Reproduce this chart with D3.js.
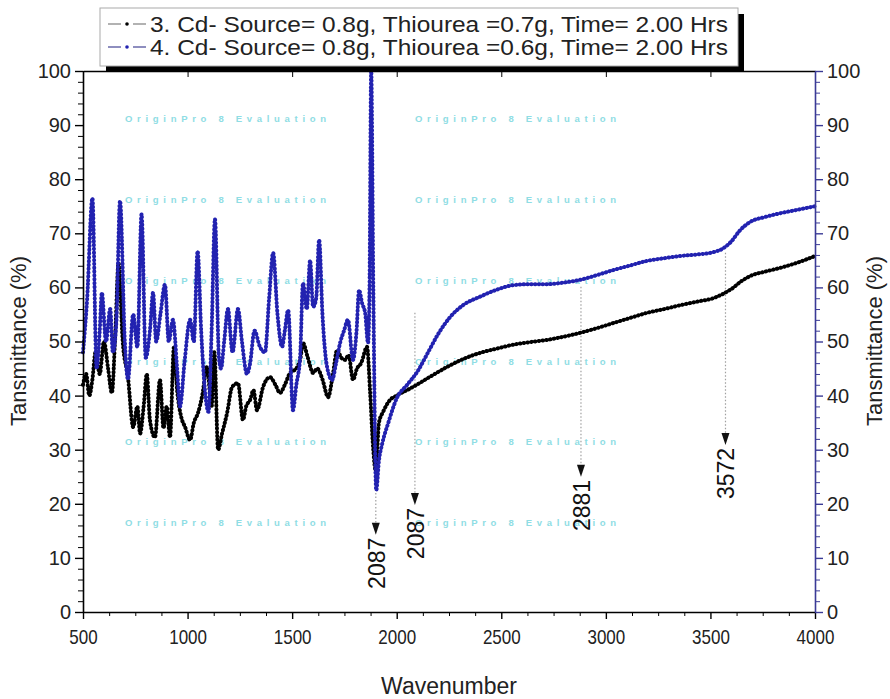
<!DOCTYPE html>
<html>
<head>
<meta charset="utf-8">
<script src="https://cdn.jsdelivr.net/npm/d3@7"></script>
<style>
  body { margin: 0; background: #fff; }
  svg { font-family: "Liberation Sans", Arial, sans-serif; }
</style>
</head>
<body>
<svg width="890" height="699"></svg>
<script>
// spectrum 3 (black)
const waveBlack = [500,515,530,545,560,580,600,620,638,655,670,690,715,740,760,773,790,805,820,844,
  868,885,900,916,935,950,970,988,1012,1030,1050,1070,1093,1115,1128,1146,1165,1189,1213,1241,
  1265,1280,1299,1315,1332,1361,1394,1420,1442,1465,1490,1520,1540,1552,1575,1600,1620,1645,1672,1695,
  1715,1735,1753,1770,1791,1810,1830,1858,1873,1887,1900,1915,1935,1968,2000,2078,2160,2241,2320,2399,
  2480,2556,2640,2719,2800,2877,2960,3035,3120,3197,3280,3355,3440,3513,3560,3600,3650,3690,3760,3833,
  3910,4000];
const transBlack = [42,44,40,43,48,44,50,45,40.5,52,64.5,50,43.4,34.2,38,33,38,44,35.5,32.3,
  42.9,34,38,32.3,49,41,36,34.2,31.8,35,36.8,40,45.3,38,48,30,33,36.8,41.6,42.3,
  35.5,38,39.2,41,37.3,41.6,43.4,42,40.5,42,44.2,45,47,49.7,47,44.2,45,43,39.7,44,
  48.4,47,46.6,47.5,42.9,45,46,49,40.5,30.5,26,35,37,39.2,40,41.6,43.5,45.3,46.8,47.9,
  48.7,49.4,49.9,50.3,50.9,51.6,52.5,53.4,54.4,55.3,56,56.7,57.4,58,58.8,59.7,61.2,62.1,62.9,63.6,
  64.5,65.8];

// spectrum 4 (blue)
const waveBlue = [500,520,545,565,580,590,610,630,643,660,677,700,715,740,760,780,800,820,835,850,
  870,892,910,930,950,964,985,1012,1030,1048,1065,1083,1100,1115,1131,1150,1160,1175,1193,1215,
  1241,1260,1284,1299,1320,1346,1370,1390,1409,1430,1452,1465,1481,1504,1520,1538,1552,1570,1586,1600,
  1615,1629,1645,1667,1691,1710,1729,1748,1767,1791,1808,1820,1835,1849,1863,1870,1878,1888,1902,1915,
  1930,1960,2000,2050,2100,2150,2200,2255,2320,2399,2480,2556,2640,2719,2800,2877,2960,3035,3120,3197,
  3280,3355,3440,3513,3560,3600,3640,3690,3760,3833,3910,4000];
const transBlue = [48,58,76.5,45,52,59,50,56,48,54,76,50,43,55,49,73.5,47,52,59,50,
  55,60.5,50,54,45,38,46,54,50,66.7,52,41,37,52,72.6,47,45,50,56,48,
  56,50,44,46,52,49,48,58,66.4,55,49,52,55.8,37.3,42,47,60.8,56,65,56.4,
  58,68.8,55,45.3,42.9,46,49.7,52,54,46.6,52,59.5,57,55.3,49.7,60,100,60,22.5,28,
  31,35,39.5,42,44.5,48,51.5,54.5,56.8,58.3,59.6,60.4,60.6,60.6,60.9,61.4,62.3,63.2,64.1,64.9,
  65.4,65.8,66.1,66.5,67.2,68.5,70.5,72.1,73,73.7,74.3,75];

const xTicks = [500,1000,1500,2000,2500,3000,3500,4000];
const yTicks = [0,10,20,30,40,50,60,70,80,90,100];
const legendLabels = [
  "3. Cd- Source= 0.8g, Thiourea =0.7g, Time= 2.00 Hrs",
  "4. Cd- Source= 0.8g, Thiourea =0.6g, Time= 2.00 Hrs"
];

// peak markers: where the arrow points, label, top of dotted guide, arrow level
const peakWave  = [1900, 2087, 2881, 3572];
const peakLabel = ["2087", "2087", "2881", "3572"];
const peakTop   = [22, 55.3, 60.1, 66.4];
const peakArrow = [16.5, 22, 27.2, 33.1];

const blue = "#2222b0";
const axisBlue = "#3a3a96";

const svg = d3.select("svg");

const x = d3.scaleLinear().domain([500, 4000]).range([83, 815]);
const y = d3.scaleLinear().domain([0, 100]).range([612, 71]);

// watermark
const wmRows = [118, 199, 280, 361, 441, 522];
[125, 415].forEach(cx => {
  wmRows.forEach(ry => {
    svg.append("text")
      .attr("x", cx).attr("y", ry)
      .attr("dominant-baseline", "central")
      .style("font-size", "9.5px")
      .style("font-weight", "bold")
      .style("letter-spacing", "4.7px")
      .style("fill", "#8fdde4")
      .text("OriginPro 8 Evaluation");
  });
});

// peak guides
peakWave.forEach((w, i) => {
  const px = x(w);
  svg.append("line")
    .attr("x1", px).attr("x2", px)
    .attr("y1", y(peakTop[i])).attr("y2", y(peakArrow[i]))
    .style("stroke", "#a0a0a0")
    .style("stroke-width", 1.2)
    .style("stroke-dasharray", "1.5 2");
  const ay = y(peakArrow[i]);
  svg.append("path")
    .attr("d", `M${px - 4},${ay} L${px + 4},${ay} L${px},${ay + 12} Z`)
    .style("fill", "#111");
  svg.append("text")
    .attr("transform", `translate(${px + 1},${ay + 15}) rotate(-90)`)
    .attr("text-anchor", "end")
    .attr("dominant-baseline", "central")
    .style("font-size", "23px")
    .style("fill", "#111")
    .text(peakLabel[i]);
});

// spectra
const line = d3.line()
  .x(d => x(d[0]))
  .y(d => y(d[1]))
  .curve(d3.curveMonotoneX);

function drawSpectrum(waves, values, color) {
  const pts = d3.zip(waves, values);
  svg.append("path")
    .datum(pts)
    .attr("d", line)
    .style("fill", "none")
    .style("stroke", color)
    .style("stroke-width", 1.6);
  svg.append("path")
    .datum(pts)
    .attr("d", line)
    .style("fill", "none")
    .style("stroke", color)
    .style("stroke-width", 4)
    .style("stroke-linecap", "round")
    .style("stroke-dasharray", "0.4 3.4");
}
drawSpectrum(waveBlack, transBlack, "#000");
drawSpectrum(waveBlue, transBlue, blue);

// axes
const minorX = d3.range(500, 4001, 125).filter(v => !xTicks.includes(v));
const minorY = d3.range(0, 101, 2).filter(v => !yTicks.includes(v));

svg.append("g")
  .attr("transform", "translate(0,612)")
  .call(d3.axisBottom(x).tickValues(minorX).tickSize(4).tickFormat(""))
  .call(g => g.select(".domain").remove());
svg.append("g")
  .attr("transform", "translate(0,612)")
  .call(d3.axisBottom(x).tickValues(xTicks).tickSize(7).tickPadding(11)
    .tickSizeOuter(0).tickFormat(d3.format("d")))
  .call(g => g.select(".domain").style("stroke-width", 1.6))
  .call(g => g.selectAll(".tick line").style("stroke-width", 1.4))
  .call(g => g.selectAll("text")
    .style("font-size", "20px").style("fill", "#222")
    .attr("transform", function () {
      return `translate(${d3.select(this.parentNode).datum() ? 0 : 0},0) scale(0.85,1)`;
    })
    .attr("x", function () { return 0; }));

svg.append("g")
  .attr("transform", "translate(0,71)")
  .call(d3.axisBottom(x).tickValues(xTicks).tickSize(6).tickFormat("").tickSizeOuter(0))
  .call(g => g.select(".domain").style("stroke-width", 1.6));

svg.append("g")
  .attr("transform", "translate(83,0)")
  .call(d3.axisLeft(y).tickValues(minorY).tickSize(5).tickFormat(""))
  .call(g => g.select(".domain").remove());
svg.append("g")
  .attr("transform", "translate(83,0)")
  .call(d3.axisLeft(y).tickValues(yTicks).tickSize(8).tickPadding(4).tickSizeOuter(0))
  .call(g => g.select(".domain").style("stroke-width", 1.6))
  .call(g => g.selectAll(".tick line").style("stroke-width", 1.4))
  .call(g => g.selectAll("text").style("font-size", "20px").style("fill", "#222"));

svg.append("g")
  .attr("transform", "translate(815,0)")
  .call(d3.axisRight(y).tickValues(minorY).tickSize(5).tickFormat(""))
  .call(g => g.select(".domain").remove())
  .call(g => g.selectAll(".tick line").style("stroke", axisBlue));
svg.append("g")
  .attr("transform", "translate(815,0)")
  .call(d3.axisRight(y).tickValues(yTicks).tickSize(8).tickPadding(4).tickSizeOuter(0))
  .call(g => g.select(".domain").style("stroke", axisBlue).style("stroke-width", 1.6))
  .call(g => g.selectAll(".tick line").style("stroke", axisBlue).style("stroke-width", 1.4))
  .call(g => g.selectAll("text").style("font-size", "20px").style("fill", "#222"));

// axis titles
svg.append("text")
  .attr("transform", "translate(18,341) rotate(-90)")
  .attr("text-anchor", "middle")
  .attr("dominant-baseline", "central")
  .style("font-size", "22px").style("fill", "#222")
  .text("Tansmittance (%)");
svg.append("text")
  .attr("transform", "translate(874,341) rotate(-90)")
  .attr("text-anchor", "middle")
  .attr("dominant-baseline", "central")
  .style("font-size", "22px").style("fill", "#222")
  .text("Tansmittance (%)");
svg.append("text")
  .attr("x", 449).attr("y", 686)
  .attr("text-anchor", "middle")
  .attr("dominant-baseline", "central")
  .style("font-size", "23px").style("fill", "#222")
  .text("Wavenumber");

// legend
const lg = svg.append("g");
lg.append("rect")
  .attr("x", 106).attr("y", 14).attr("width", 638).attr("height", 58)
  .style("fill", "#000");
lg.append("rect")
  .attr("x", 100).attr("y", 8).attr("width", 638).attr("height", 58)
  .style("fill", "#fff").style("stroke", "#aaa").style("stroke-width", 1);
const symColors = [["#999", "#000"], ["#6a6aaa", blue]];
legendLabels.forEach((lab, i) => {
  const cy = 24 + i * 23;
  lg.append("line")
    .attr("x1", 108).attr("x2", 146).attr("y1", cy).attr("y2", cy)
    .style("stroke", symColors[i][0]).style("stroke-width", 1.4)
    .style("stroke-dasharray", "13 12");
  lg.append("circle")
    .attr("cx", 127).attr("cy", cy).attr("r", 1.8)
    .style("fill", symColors[i][1]);
  lg.append("text")
    .attr("x", 150).attr("y", cy)
    .attr("dominant-baseline", "central")
    .attr("textLength", 578)
    .attr("lengthAdjust", "spacingAndGlyphs")
    .style("font-size", "22px").style("fill", "#222")
    .text(lab);
});
</script>
</body>
</html>
